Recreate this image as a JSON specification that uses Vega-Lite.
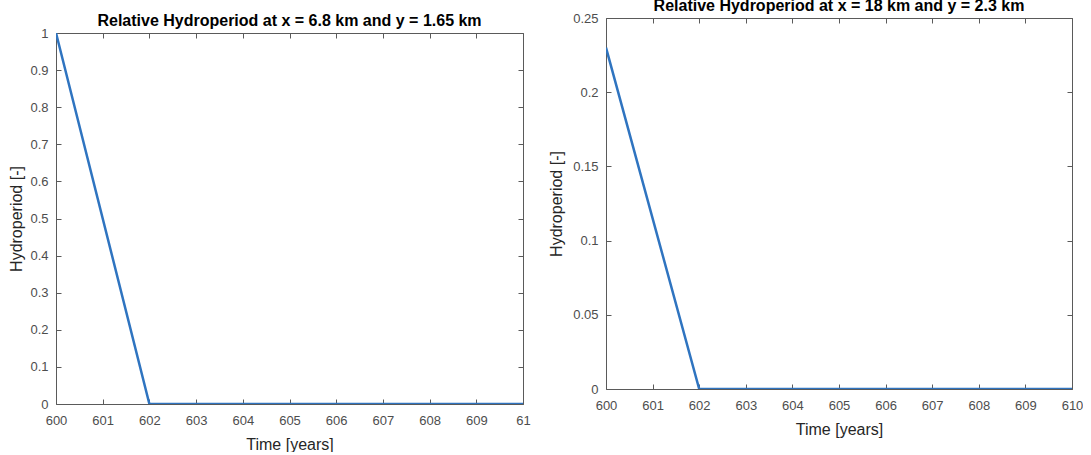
{
  "$schema": "https://vega.github.io/schema/vega-lite/v6.json",
  "padding": {"left": 8, "top": -2, "right": 0, "bottom": 0},
  "background": "white",
  "config": {
    "font": "Liberation Sans",
    "view": {"stroke": null},
    "title": {"font": "Liberation Sans", "fontSize": 16, "fontWeight": "bold", "color": "#000000", "offset": -2},
    "axis": {
      "labelFont": "Liberation Sans",
      "labelFontSize": 13,
      "labelColor": "#4d4d4d",
      "labelPadding": 13,
      "titleFont": "Liberation Sans",
      "titleFontSize": 16,
      "titleFontWeight": "normal",
      "titleColor": "#262626",
      "domainColor": "#5a5a5a",
      "tickColor": "#5a5a5a",
      "tickSize": -5,
      "grid": false,
      "labelFlush": false,
      "labelOverlap": false
    },
    "axisY": {"titlePadding": 5},
    "axisX": {"titlePadding": 9, "labelPadding": 15}
  },
  "hconcat": [
    {
      "bounds": "flush",
      "spacing": 1,
      "vconcat": [
        {
          "width": 467,
          "height": 14,
          "data": {"values": [{}]},
          "mark": {"type": "rule", "opacity": 0},
          "encoding": {}
        },
        {
          "width": 467,
          "height": 371,
          "title": "Relative Hydroperiod at x = 6.8 km and y = 1.65 km",
          "data": {"values": [
            {"t": 600, "h": 1},
            {"t": 602, "h": 0},
            {"t": 610, "h": 0}
          ]},
          "layer": [
            {
              "mark": {"type": "line", "color": "#2f74c0", "strokeWidth": 2.5, "clip": true},
              "encoding": {
                "x": {"field": "t", "type": "quantitative", "scale": {"domain": [600, 610], "nice": false},
                  "axis": {"orient": "bottom", "values": [600, 601, 602, 603, 604, 605, 606, 607, 608, 609, 610],
                    "title": "Time [years]", "labelExpr": "datum.value == 610 ? '61' : datum.label"}},
                "y": {"field": "h", "type": "quantitative", "scale": {"domain": [0, 1], "nice": false},
                  "axis": {"orient": "left", "values": [0, 0.1, 0.2, 0.3, 0.4, 0.5, 0.6, 0.7, 0.8, 0.9, 1],
                    "format": "~g", "title": "Hydroperiod [-]"}}
              }
            },
            {
              "mark": {"type": "line", "opacity": 0},
              "encoding": {
                "x": {"field": "t", "type": "quantitative",
                  "axis": {"orient": "top", "values": [600, 601, 602, 603, 604, 605, 606, 607, 608, 609, 610], "labels": false, "title": null}},
                "y": {"field": "h", "type": "quantitative",
                  "axis": {"orient": "right", "values": [0, 0.1, 0.2, 0.3, 0.4, 0.5, 0.6, 0.7, 0.8, 0.9, 1], "labels": false, "title": null}}
              }
            }
          ],
          "resolve": {"axis": {"x": "independent", "y": "independent"}}
        }
      ]
    },
    {
      "width": 466,
      "height": 371,
      "title": "Relative Hydroperiod at x = 18 km and y = 2.3 km",
      "data": {"values": [
        {"t": 600, "h": 0.23},
        {"t": 602, "h": 0},
        {"t": 610, "h": 0}
      ]},
      "layer": [
        {
          "mark": {"type": "line", "color": "#2f74c0", "strokeWidth": 2.5, "clip": true},
          "encoding": {
            "x": {"field": "t", "type": "quantitative", "scale": {"domain": [600, 610], "nice": false},
              "axis": {"orient": "bottom", "values": [600, 601, 602, 603, 604, 605, 606, 607, 608, 609, 610],
                "title": "Time [years]"}},
            "y": {"field": "h", "type": "quantitative", "scale": {"domain": [0, 0.25], "nice": false},
              "axis": {"orient": "left", "values": [0, 0.05, 0.1, 0.15, 0.2, 0.25],
                "format": "~g", "title": "Hydroperiod [-]", "titlePadding": 8}}
          }
        },
        {
          "mark": {"type": "line", "opacity": 0},
          "encoding": {
            "x": {"field": "t", "type": "quantitative",
              "axis": {"orient": "top", "values": [600, 601, 602, 603, 604, 605, 606, 607, 608, 609, 610], "labels": false, "title": null}},
            "y": {"field": "h", "type": "quantitative",
              "axis": {"orient": "right", "values": [0, 0.05, 0.1, 0.15, 0.2, 0.25], "labels": false, "title": null}}
          }
        }
      ],
      "resolve": {"axis": {"x": "independent", "y": "independent"}}
    }
  ],
  "spacing": 17
}
